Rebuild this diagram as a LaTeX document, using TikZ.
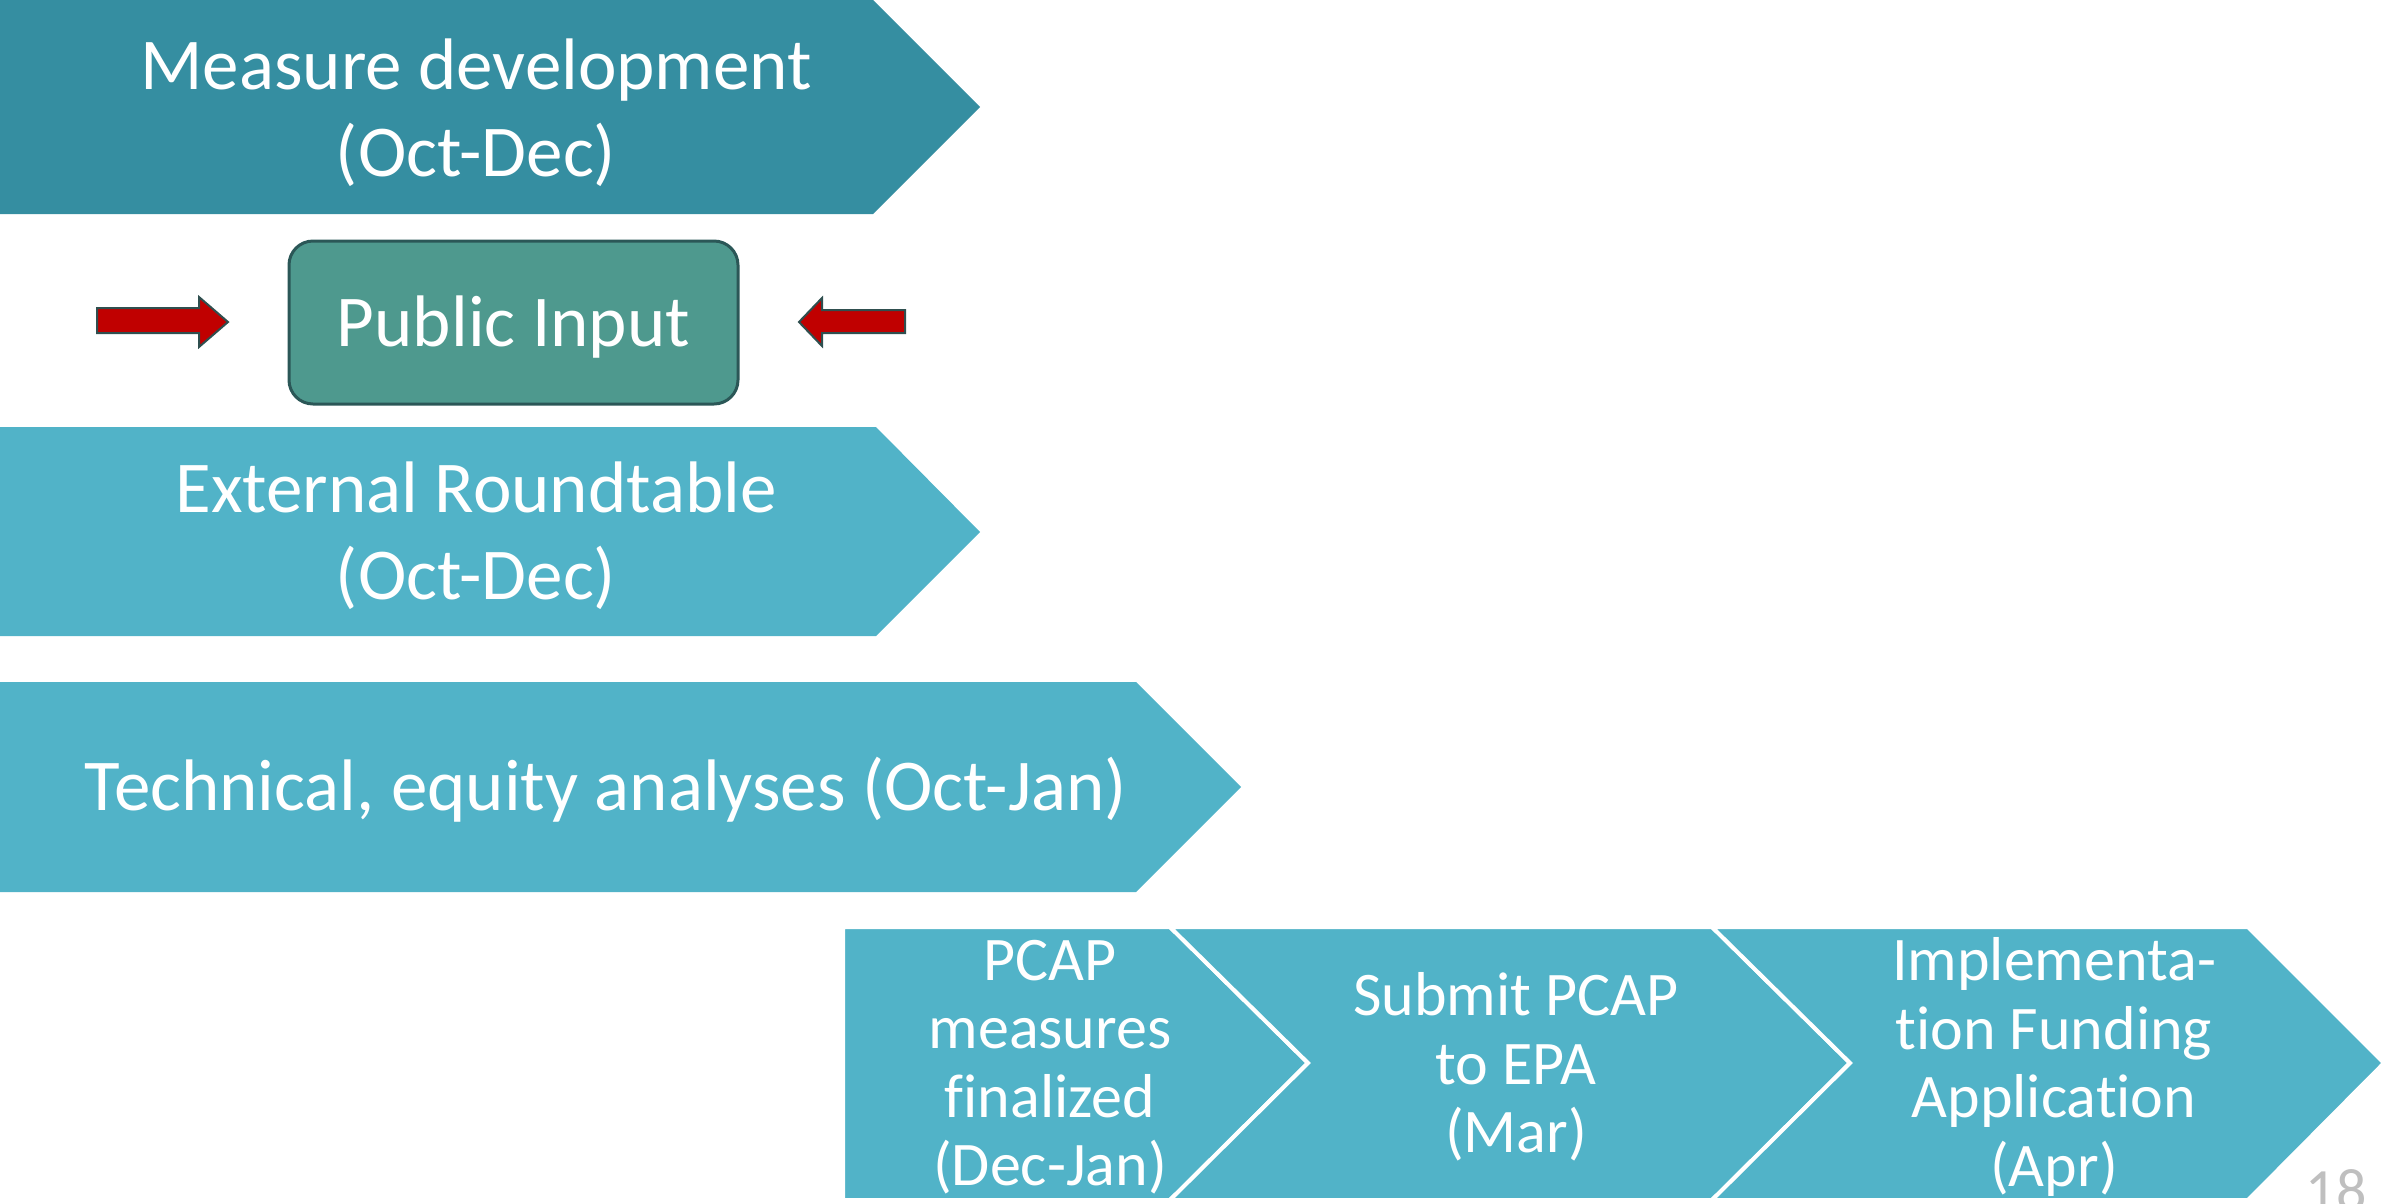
\documentclass[tikz,border=0pt]{standalone}
\usepackage{fontspec}
\setmainfont{Carlito}[Ligatures=NoCommon]
\definecolor{darkteal}{HTML}{358EA1}
\definecolor{lightteal}{HTML}{51B3C8}
\definecolor{greenbox}{HTML}{4E998E}
\definecolor{greenedge}{HTML}{2B5757}
\definecolor{arrowred}{HTML}{C00000}
\definecolor{arrowedge}{HTML}{2F4F4F}
\definecolor{pagegray}{HTML}{BFBFBF}
\tikzset{
  bigtxt/.style={text=white, align=center, inner sep=0pt, font=\fontsize{73}{87}\selectfont},
  smalltxt/.style={text=white, align=center, inner sep=0pt, font=\fontsize{62}{68.5}\selectfont},
  chev/.style={fill=lightteal, draw=white, line width=4pt, line join=miter},
  redarrow/.style={fill=arrowred, draw=arrowedge, line width=2pt, line join=miter},
}
\begin{document}
\begin{tikzpicture}[x=1pt,y=-1pt]
\useasboundingbox (0,0) rectangle (2382,1203);
% top shapes
\fill[darkteal] (0,0) -- (873,0) -- (980,107) -- (873,214) -- (0,214) -- cycle;
\fill[lightteal] (0,427) -- (876,427) -- (980,532) -- (876,636) -- (0,636) -- cycle;
\fill[lightteal] (0,682) -- (1136,682) -- (1241,787) -- (1136,892) -- (0,892) -- cycle;
% bottom chevrons
\path[chev] (843,927) -- (1170,927) -- (1308,1063) -- (1170,1200) -- (843,1200) -- cycle;
\path[chev] (1170,927) -- (1712,927) -- (1850,1063) -- (1712,1200) -- (1170,1200) -- (1308,1063) -- cycle;
\path[chev] (1712,927) -- (2248,927) -- (2384,1063) -- (2248,1200) -- (1712,1200) -- (1850,1063) -- cycle;
% public input
\node[draw=greenedge, line width=3pt, fill=greenbox, rounded corners=24pt,
      minimum width=449pt, minimum height=163pt, text=white,
      font=\fontsize{73}{87}\selectfont] (pi) at (513.5,322.5) {};
\node[text=white, inner sep=0pt, font=\fontsize{73}{87}\selectfont] (pit) at (513.5,327) {Public Input};
% red arrows
\path[redarrow] (97,308) -- (199,308) -- (199,297) -- (228,322) -- (199,347) -- (199,333) -- (97,333) -- cycle;
\path[redarrow] (905,310) -- (822,310) -- (822,298) -- (799,322) -- (822,346) -- (822,333) -- (905,333) -- cycle;
% texts
\node[bigtxt] (md) at (476,113) {Measure development\\(Oct-Dec)};
\node[bigtxt] (er) at (476,536) {External Roundtable\\(Oct-Dec)};
\node[bigtxt] (te) at (606,790) {Technical, equity analyses (Oct-Jan)};
\node[smalltxt] (pc) at (1050,1067) {PCAP\\measures\\finalized\\(Dec-Jan)};
\node[smalltxt] (sp) at (1516,1067) {Submit PCAP\\to EPA\\(Mar)};
\node[smalltxt] (im) at (2054,1067) {Implementa-\\tion Funding\\Application\\(Apr)};
\node[text=pagegray, inner sep=0pt, font=\fontsize{60}{72}\selectfont] (pg) at (2336,1190) {18};
\end{tikzpicture}
\end{document}
